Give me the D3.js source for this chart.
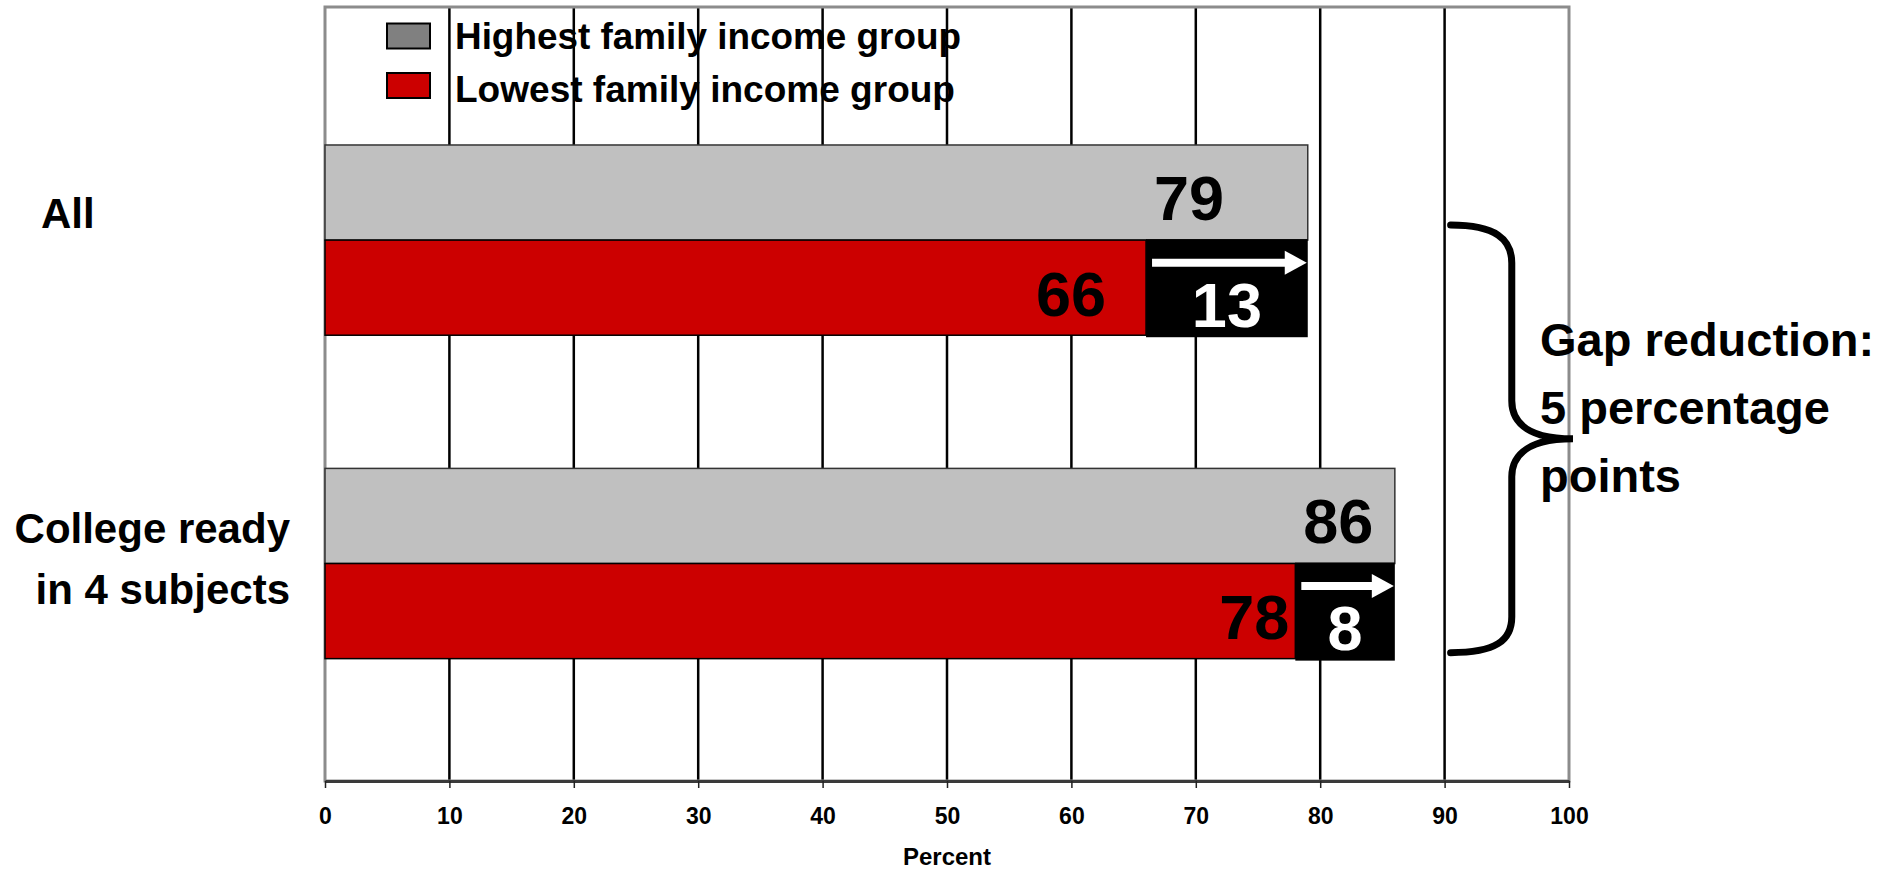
<!DOCTYPE html>
<html>
<head>
<meta charset="utf-8">
<script src="https://cdn.jsdelivr.net/npm/d3@7"></script>
<style>
  html, body { margin: 0; padding: 0; background: #ffffff; }
  svg { display: block; font-family: "Liberation Sans", Arial, Helvetica, sans-serif; font-weight: bold; }
</style>
</head>
<body>
<svg id="chart" width="1888" height="869"></svg>
<script>
// ---- data ----
const categories = ["All", "College ready in 4 subjects"];
const categoryLines = [["All"], ["College ready", "in 4 subjects"]];
const seriesNames = ["Highest family income group", "Lowest family income group"];
const highestValues = [79, 86];
const lowestValues = [66, 78];
const gapValues = [13, 8];
const xTicks = [0, 10, 20, 30, 40, 50, 60, 70, 80, 90, 100];
const axisTitle = "Percent";
const gapNote = ["Gap reduction:", "5 percentage", "points"];

// ---- layout ----
const plot = { left: 325, right: 1569, top: 7, bottom: 781 };
const colors = { high: "#c0c0c0", low: "#cc0000", legendHigh: "#808080", gap: "#000000" };
const svg = d3.select("#chart");

const x = d3.scaleLinear().domain([0, 100]).range([plot.left, plot.right]);
const y = d3.scaleBand().domain(categories).range([plot.top, plot.bottom])
  .paddingInner(0.4118).paddingOuter(0.4025).align(0.53);
const ySub = d3.scaleBand().domain(seriesNames).range([0, y.bandwidth()]);

const rows = categories.map((c, i) => ({
  cat: c, lines: categoryLines[i], high: highestValues[i], low: lowestValues[i], gap: gapValues[i], i
}));

// ---- legend (sits behind the grid) ----
const legend = svg.append("g");
const legendColors = [colors.legendHigh, colors.low];
const legendTextWidth = [506, 500];
seriesNames.forEach((name, i) => {
  const cy = 36 + i * 49.5;
  legend.append("rect").attr("x", 387).attr("y", cy - 12.5).attr("width", 43).attr("height", 25)
    .attr("fill", legendColors[i]).attr("stroke", "#000").attr("stroke-width", 2);
  legend.append("text").attr("x", 455).attr("y", cy + 13 + i * 3)
    .attr("font-size", 36).attr("fill", "#000")
    .attr("textLength", legendTextWidth[i]).attr("lengthAdjust", "spacingAndGlyphs")
    .text(name);
});

// ---- gridlines ----
svg.append("g").selectAll("line").data(xTicks.filter(d => d > 0 && d < 100)).join("line")
  .attr("x1", d => x(d)).attr("x2", d => x(d))
  .attr("y1", plot.top).attr("y2", plot.bottom)
  .attr("stroke", "#000").attr("stroke-width", 2.5);

// plot frame
svg.append("rect").attr("x", plot.left).attr("y", plot.top)
  .attr("width", plot.right - plot.left).attr("height", plot.bottom - plot.top)
  .attr("fill", "none").attr("stroke", "#8c8c8c").attr("stroke-width", 3);

// ---- bars ----
const barG = svg.append("g");
barG.selectAll("rect.high").data(rows).join("rect").attr("class", "high")
  .attr("x", x(0)).attr("y", d => y(d.cat) + ySub(seriesNames[0]))
  .attr("width", d => x(d.high) - x(0)).attr("height", ySub.bandwidth())
  .attr("fill", colors.high).attr("stroke", "#333").attr("stroke-width", 1.5);
barG.selectAll("rect.low").data(rows).join("rect").attr("class", "low")
  .attr("x", x(0)).attr("y", d => y(d.cat) + ySub(seriesNames[1]))
  .attr("width", d => x(d.low) - x(0)).attr("height", ySub.bandwidth())
  .attr("fill", colors.low).attr("stroke", "#000").attr("stroke-width", 1.5);

// gap boxes from the low value to the high value
barG.selectAll("rect.gap").data(rows).join("rect").attr("class", "gap")
  .attr("x", d => x(d.low)).attr("y", d => y(d.cat) + ySub(seriesNames[1]) - 1)
  .attr("width", d => x(d.low + d.gap) - x(d.low)).attr("height", ySub.bandwidth() + 3)
  .attr("fill", colors.gap);

// ---- value labels ----
const lowCenter = d => y(d.cat) + ySub(seriesNames[1]) + ySub.bandwidth() / 2;
const highCenter = d => y(d.cat) + ySub(seriesNames[0]) + ySub.bandwidth() / 2;
const lowLabelGap = [40, 6];

barG.selectAll("text.high").data(rows).join("text").attr("class", "high")
  .attr("x", d => x(d.low) + 8).attr("y", d => highCenter(d) + 27)
  .attr("font-size", 63).attr("fill", "#000").text(d => d.high);
barG.selectAll("text.low").data(rows).join("text").attr("class", "low")
  .attr("x", d => x(d.low) - lowLabelGap[d.i]).attr("y", d => lowCenter(d) + 28)
  .attr("text-anchor", "end").attr("font-size", 63).attr("fill", "#000").text(d => d.low);
barG.selectAll("text.gap").data(rows).join("text").attr("class", "gap")
  .attr("x", d => (x(d.low) + x(d.low + d.gap)) / 2).attr("y", d => lowCenter(d) + 39)
  .attr("text-anchor", "middle").attr("font-size", 63).attr("fill", "#fff").text(d => d.gap);

// arrows inside the gap boxes
rows.forEach(d => {
  const ay = lowCenter(d) - 25;
  const x0 = x(d.low) + 6, x1 = x(d.low + d.gap) - 1, head = 22;
  barG.append("line").attr("x1", x0).attr("x2", x1 - head + 2).attr("y1", ay).attr("y2", ay)
    .attr("stroke", "#fff").attr("stroke-width", 8);
  barG.append("path")
    .attr("d", `M${x1 - head},${ay - 12}L${x1},${ay}L${x1 - head},${ay + 12}Z`)
    .attr("fill", "#fff");
});

// ---- x axis ----
const axis = d3.axisBottom(x).tickValues(xTicks).tickFormat(d3.format("d"))
  .tickSizeInner(7).tickSizeOuter(0).tickPadding(20);
const axG = svg.append("g").attr("transform", `translate(0,${plot.bottom})`).call(axis);
axG.select(".domain").attr("stroke", "#3a3a3a").attr("stroke-width", 3);
axG.selectAll(".tick line").attr("stroke", "#222").attr("stroke-width", 1.5);
axG.selectAll(".tick text").attr("font-size", 23).attr("font-weight", "bold")
  .attr("font-family", "Liberation Sans, Arial, sans-serif").attr("fill", "#000");

svg.append("text").attr("x", x(50)).attr("y", 865).attr("text-anchor", "middle")
  .attr("font-size", 24).attr("fill", "#000").text(axisTitle);

// ---- category labels ----
const catLayout = [{ anchor: "start", x: 41, dy: -12 }, { anchor: "end", x: 290, dy: -21 }];
const catG = svg.append("g");
rows.forEach(d => {
  const lay = catLayout[d.i];
  const cy = y(d.cat) + y.bandwidth() / 2;
  d.lines.forEach((line, j) => {
    catG.append("text").attr("x", lay.x).attr("y", cy + lay.dy + j * 61)
      .attr("text-anchor", lay.anchor).attr("font-size", 42).attr("fill", "#000").text(line);
  });
});

// ---- brace spanning both gaps, with note ----
const bTop = y(categories[0]) + ySub(seriesNames[1]) - 15;
const bBot = y(categories[1]) + y.bandwidth() - 6;
const bMid = (bTop + bBot) / 2;
const bx0 = x(90) + 6, bx1 = x(95.4), bTip = x(100) + 4;
const brace = d3.path();
brace.moveTo(bx0, bTop);
brace.bezierCurveTo(bx0 + 45, bTop, bx1, bTop + 14, bx1, bTop + 38);
brace.lineTo(bx1, bMid - 38);
brace.bezierCurveTo(bx1, bMid - 14, bx1 + 20, bMid, bTip, bMid);
brace.bezierCurveTo(bx1 + 20, bMid, bx1, bMid + 14, bx1, bMid + 38);
brace.lineTo(bx1, bBot - 36);
brace.bezierCurveTo(bx1, bBot - 12, bx0 + 45, bBot, bx0, bBot);
svg.append("path").attr("d", brace.toString()).attr("fill", "none")
  .attr("stroke", "#000").attr("stroke-width", 7).attr("stroke-linecap", "round");

gapNote.forEach((line, j) => {
  svg.append("text").attr("x", 1540).attr("y", bMid - 83 + j * 68)
    .attr("font-size", 47).attr("fill", "#000").text(line);
});
</script>
</body>
</html>
